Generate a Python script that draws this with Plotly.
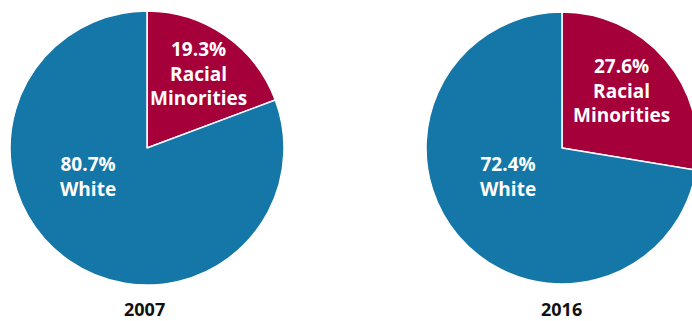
import plotly.graph_objects as go

# Population shares by year
years = ["2007", "2016"]
groups = ["Racial Minorities", "White"]
minority_share = [19.3, 27.6]
white_share = [80.7, 72.4]

BLUE = "#1576a8"
RED = "#a6003a"
FONT = "Open Sans"

W, H = 704, 321  # canvas slightly wider than the view so the right pie runs off the edge


def px_x(x):
    return x / W


def px_y(y):
    return (H - y) / H


# pie boxes in pixels: (left, top, right, bottom)
boxes = [(10, 11, 284, 285), (426, 12, 698, 284)]

fig = go.Figure()
for i, year in enumerate(years):
    l, t, r, b = boxes[i]
    fig.add_trace(go.Pie(
        labels=groups,
        values=[minority_share[i], white_share[i]],
        sort=False,
        direction="clockwise",
        rotation=0,
        marker=dict(colors=[RED, BLUE], line=dict(color="white", width=1.5)),
        textinfo="none",
        hoverinfo="label+percent",
        showlegend=False,
        domain=dict(x=[px_x(l), px_x(r)], y=[px_y(b), px_y(t)]),
    ))

# label offsets relative to each pie centre (pixels)
red_offsets = [(51, -75), (59, -58)]
blue_offsets = [(-59, 29), (-54, 29)]

annotations = []
for i, year in enumerate(years):
    l, t, r, b = boxes[i]
    cx, cy = (l + r) / 2, (t + b) / 2
    dx, dy = red_offsets[i]
    annotations.append(dict(
        x=px_x(cx + dx), y=px_y(cy + dy), xref="paper", yref="paper",
        text=f"<b>{minority_share[i]:.1f}%<br>Racial<br>Minorities</b>",
        showarrow=False, xanchor="center", yanchor="middle",
        font=dict(family=FONT, size=19, color="white"),
    ))
    dx, dy = blue_offsets[i]
    annotations.append(dict(
        x=px_x(cx + dx), y=px_y(cy + dy), xref="paper", yref="paper",
        text=f"<b>{white_share[i]:.1f}%<br>White</b>",
        showarrow=False, xanchor="center", yanchor="middle",
        font=dict(family=FONT, size=19, color="white"),
    ))
    annotations.append(dict(
        x=px_x(cx - 3 if i == 0 else cx - 1), y=px_y(309), xref="paper", yref="paper",
        text=f"<b>{year}</b>",
        showarrow=False, xanchor="center", yanchor="middle",
        font=dict(family=FONT, size=18, color="#111111"),
    ))

fig.update_layout(
    width=W, height=H,
    margin=dict(l=0, r=0, t=0, b=0),
    paper_bgcolor="white",
    plot_bgcolor="white",
    annotations=annotations,
)

fig.write_html(
    "out.html",
    config={"displayModeBar": False},
    post_script="document.documentElement.style.overflow='hidden';document.body.style.overflow='hidden';document.body.style.margin='0';",
)
